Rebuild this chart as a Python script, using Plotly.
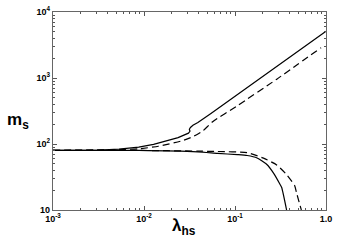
import plotly.graph_objects as go

# Upper branch, solid
up_solid_lam = [0.001, 0.00323, 0.00532, 0.00875, 0.01274, 0.0185, 0.0237, 0.0308, 0.0320, 0.0315, 0.0324, 0.0345, 0.0391, 0.0544, 0.136, 0.369, 1.0]
up_solid_m = [80, 80.7, 83.5, 89.4, 98.8, 112, 125, 146, 156, 167, 178, 192, 211, 290, 714, 1905, 5090]

# Upper branch, dashed
up_dash_lam = [0.001, 0.00532, 0.00875, 0.0144, 0.0256, 0.0345, 0.0443, 0.0568, 0.106, 0.288, 0.883]
up_dash_m = [80, 82.3, 84.4, 92.5, 111, 129, 158, 218, 380, 961, 2880]

# Lower branch, solid
lo_solid_lam = [0.001, 0.00875, 0.0391, 0.0644, 0.106, 0.136, 0.175, 0.224, 0.265, 0.312, 0.326, 0.369]
lo_solid_m = [80, 80, 76, 72, 69, 67, 61.5, 49, 36.3, 24.6, 21.9, 10]

# Lower branch, dashed
lo_dash_lam = [0.001, 0.00875, 0.0391, 0.0644, 0.136, 0.206, 0.287, 0.369, 0.454, 0.473, 0.536]
lo_dash_m = [80, 80, 78, 77, 74, 61, 48.2, 34.4, 23.2, 18.5, 10]

x_tickvals = [0.001, 0.01, 0.1, 1.0]
x_ticktext = ["10<sup>-3</sup>", "10<sup>-2</sup>", "10<sup>-1</sup>", "1.0"]
y_tickvals = [10, 100, 1000, 10000]
y_ticktext = ["10", "10<sup>2</sup>", "10<sup>3</sup>", "10<sup>4</sup>"]
minor_steps = [2, 3, 4, 5, 6, 7, 8, 9]

FONT = "Liberation Sans"

x_minor = [d * s for d in [0.001, 0.01, 0.1] for s in minor_steps]
y_minor = [d * s for d in [10, 100, 1000] for s in minor_steps]

fig = go.Figure()
for lam, m, dash, shape in [
    (up_solid_lam, up_solid_m, "solid", "linear"),
    (up_dash_lam, up_dash_m, "7px,4px", "spline"),
    (lo_solid_lam, lo_solid_m, "solid", "spline"),
    (lo_dash_lam, lo_dash_m, "7px,4px", "spline"),
]:
    line = dict(color="black", width=1.2, dash=dash, shape=shape)
    if shape == "spline":
        line["smoothing"] = 0.5
    fig.add_trace(go.Scatter(x=lam, y=m, mode="lines", line=line,
                             showlegend=False, hoverinfo="skip"))

axis_common = dict(
    type="log", showgrid=False, zeroline=False,
    showline=True, linecolor="#666666", linewidth=1.3, mirror="ticks",
    ticks="inside", ticklen=4, tickcolor="#555555", tickwidth=1,
    tickfont=dict(family=FONT, size=9, color="black", weight="bold"),
    ticklabeloverflow="allow",
)

fig.update_xaxes(range=[-3, 0], tickvals=x_tickvals, ticktext=x_ticktext,
                 minor=dict(tickvals=x_minor, ticks="inside", ticklen=2, tickcolor="#555555", tickwidth=1, showgrid=False),
                 **axis_common)
fig.update_yaxes(range=[1, 4], tickvals=y_tickvals, ticktext=y_ticktext,
                 minor=dict(tickvals=y_minor, ticks="inside", ticklen=2, tickcolor="#555555", tickwidth=1, showgrid=False),
                 **axis_common)

fig.add_annotation(text="<b>m<sub>s</sub></b>", xref="paper", yref="paper",
                   x=-0.13, y=0.45, xanchor="center", yanchor="middle", showarrow=False,
                   font=dict(family=FONT, size=17, color="black"))
fig.add_annotation(text="<b>λ<sub>hs</sub></b>", xref="paper", yref="paper",
                   x=0.48, y=-0.085, xanchor="center", yanchor="middle", showarrow=False,
                   font=dict(family=FONT, size=17, color="black"))

fig.update_layout(
    width=337, height=249,
    margin=dict(l=53, r=7, t=5, b=39),
    paper_bgcolor="white", plot_bgcolor="white",
)

fig.write_html("out.html", config={"displayModeBar": False},
               post_script="document.body.style.margin='0';document.body.style.overflow='hidden';")
